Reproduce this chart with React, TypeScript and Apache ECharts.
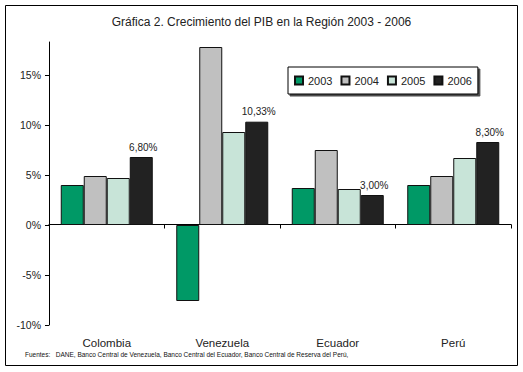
import React, { useEffect, useRef } from "react";
import * as echarts from "echarts";

const categories = ["Colombia", "Venezuela", "Ecuador", "Perú"];
const years = ["2003", "2004", "2005", "2006"];
const v2003 = [4.0, -7.6, 3.7, 4.0];
const v2004 = [4.9, 17.8, 7.5, 4.9];
const v2005 = [4.7, 9.3, 3.6, 6.7];
const v2006 = [6.8, 10.33, 3.0, 8.3];
const yTicks = [-10, -5, 0, 5, 10, 15];
const colors = ["#009966", "#c0c0c0", "#c8e4d8", "#222222"];
const title = "Gráfica 2. Crecimiento del PIB en la Región 2003 - 2006";
const source =
  "Fuentes:   DANE, Banco Central de Venezuela, Banco Central del Ecuador, Banco Central de Reserva del Perú,";

const FONT = "'Liberation Sans', Arial, sans-serif";

export default function App() {
  const ref = useRef<HTMLDivElement>(null);
  useEffect(() => {
    if (!ref.current) return;
    const chart = echarts.init(ref.current, null, { renderer: "svg" });
    const seriesData = [v2003, v2004, v2005, v2006];
    chart.setOption({
      animation: false,
      backgroundColor: "#ffffff",
      textStyle: { fontFamily: FONT },
      title: {
        text: title,
        left: "center",
        top: 11,
        textStyle: { fontFamily: FONT, fontSize: 12, fontWeight: "normal", color: "#222" },
      },
      graphic: [
        {
          type: "rect",
          shape: { x: 5.5, y: 5.5, width: 512, height: 360 },
          style: { fill: "none", stroke: "#000", lineWidth: 1 },
          silent: true,
        },
        {
          type: "text",
          left: 25,
          top: 351,
          style: { text: source, fontFamily: FONT, fontSize: 6.5, fill: "#111" },
        },
      ],
      legend: {
        data: years.map((y) => ({ name: y, icon: "rect" })),
        left: 288,
        top: 67,
        padding: [8, 6],
        itemWidth: 8,
        itemHeight: 8,
        itemGap: 8,
        backgroundColor: "#fff",
        borderColor: "#000",
        borderWidth: 1,
        shadowColor: "rgba(0,0,0,0.7)",
        shadowOffsetX: 2,
        shadowOffsetY: 2,
        shadowBlur: 0,
        textStyle: { fontFamily: FONT, fontSize: 11, color: "#222" },
      },
      grid: { left: 49, top: 42, right: 12, bottom: 47, outerBoundsMode: "none", containLabel: false },
      xAxis: [
        {
          type: "category",
          data: categories,
          position: "bottom",
          axisLine: { show: false, onZero: false },
          axisTick: { show: false },
          axisLabel: { margin: 12, fontFamily: FONT, fontSize: 11.5, color: "#222" },
        },
        {
          type: "category",
          data: categories,
          position: "bottom",
          offset: -100.5,
          axisLine: { show: true, onZero: false, lineStyle: { color: "#000", width: 1 } },
          axisTick: { show: true, length: 4, lineStyle: { color: "#000" } },
          axisLabel: { show: false },
        },
      ],
      yAxis: {
        type: "value",
        min: -10,
        max: 18.3,
        interval: 5,
        splitLine: { show: false },
        axisLine: { show: true, lineStyle: { color: "#000", width: 1 } },
        axisTick: { show: true, length: 4, lineStyle: { color: "#000" }, customValues: yTicks },
        axisLabel: {
          margin: 8,
          fontFamily: FONT,
          fontSize: 10.5,
          color: "#222",
          customValues: yTicks,
          formatter: (v: number) => `${v}%`,
        },
      },
      series: years.map((y, i) => ({
        name: y,
        type: "bar",
        xAxisIndex: 0,
        data: seriesData[i],
        barWidth: 23,
        barGap: "0%",
        itemStyle: { color: colors[i], borderColor: "#111", borderWidth: 1 },
        label:
          i === 3
            ? {
                show: true,
                position: "top",
                distance: 5,
                offset: [2, 0],
                fontFamily: FONT,
                fontSize: 10,
                color: "#222",
                formatter: (p: any) => `${p.value.toFixed(2).replace(".", ",")}%`,
              }
            : { show: false },
      })),
    });
    return () => chart.dispose();
  }, []);
  return (
    <div
      ref={ref}
      style={{ position: "absolute", left: 0, top: 0, width: 523, height: 372 }}
    />
  );
}
